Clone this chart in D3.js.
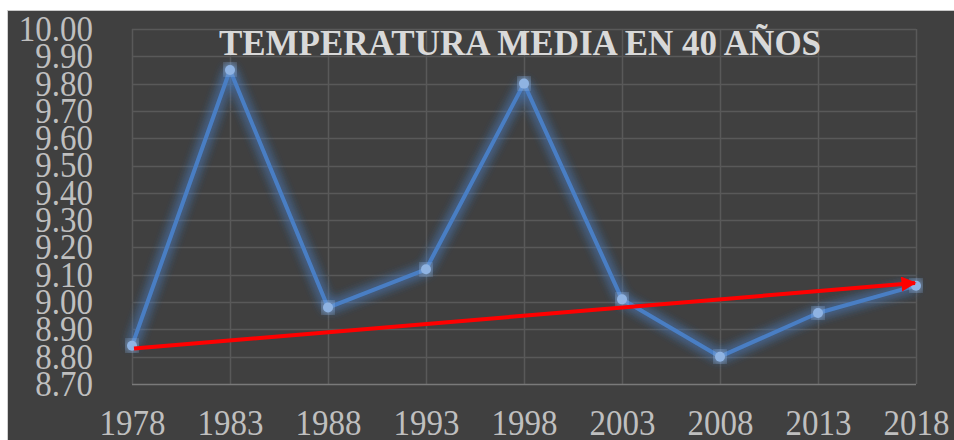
<!DOCTYPE html>
<html>
<head>
<meta charset="utf-8">
<script src="https://cdn.jsdelivr.net/npm/d3@7"></script>
<style>
  body { margin: 0; background: #ffffff; }
  svg { display: block; }
</style>
</head>
<body>
<div id="chart"></div>
<script>
// chart data
const years = ["1978", "1983", "1988", "1993", "1998", "2003", "2008", "2013", "2018"];
const temps = [8.84, 9.85, 8.98, 9.12, 9.80, 9.01, 8.80, 8.96, 9.06];
const yTicks = [8.70, 8.80, 8.90, 9.00, 9.10, 9.20, 9.30, 9.40, 9.50, 9.60, 9.70, 9.80, 9.90, 10.00];
const trendYears = ["1978", "2018"];
const trendValues = [8.83, 9.07];
const title = "TEMPERATURA MEDIA EN 40 AÑOS";

function drawChart() {
  const W = 954, H = 440;
  const plot = { left: 132, right: 916, top: 29, bottom: 384 };
  const labelFont = "'Liberation Serif', 'DejaVu Serif', serif";

  const svg = d3.select("#chart").append("svg")
    .attr("width", W)
    .attr("height", H);

  // soft blue glow for the series line
  const defs = svg.append("defs");
  const glow = defs.append("filter")
    .attr("id", "glow")
    .attr("x", "-20%").attr("y", "-20%")
    .attr("width", "140%").attr("height", "140%");
  glow.append("feGaussianBlur")
    .attr("in", "SourceGraphic")
    .attr("stdDeviation", 6)
    .attr("result", "blur");
  const merge = glow.append("feMerge");
  merge.append("feMergeNode").attr("in", "blur");
  merge.append("feMergeNode").attr("in", "blur");
  merge.append("feMergeNode").attr("in", "SourceGraphic");

  defs.append("marker")
    .attr("id", "arrow")
    .attr("viewBox", "0 0 10 10")
    .attr("refX", 9).attr("refY", 5)
    .attr("markerUnits", "userSpaceOnUse")
    .attr("markerWidth", 17).attr("markerHeight", 15)
    .attr("orient", "auto")
    .append("path")
      .attr("d", "M0,0 L10,5 L0,10 Z")
      .attr("fill", "#ff0000");

  // chart background
  svg.append("rect")
    .attr("x", 8).attr("y", 11)
    .attr("width", W - 8).attr("height", H - 11)
    .attr("fill", "#404040");
  svg.append("line")
    .attr("x1", 8).attr("x2", W).attr("y1", 10.5).attr("y2", 10.5)
    .attr("stroke", "#c8c8c8");
  svg.append("line")
    .attr("x1", 7.5).attr("x2", 7.5).attr("y1", 10).attr("y2", H)
    .attr("stroke", "#d0d0d0");

  const x = d3.scalePoint()
    .domain(years)
    .range([plot.left, plot.right]);

  const y = d3.scaleLinear()
    .domain([8.7, 10])
    .range([plot.bottom, plot.top]);

  // horizontal gridlines
  svg.append("g")
    .selectAll("line")
    .data(yTicks.slice(1))
    .join("line")
      .attr("x1", plot.left).attr("x2", plot.right)
      .attr("y1", d => Math.round(y(d)) + 0.5)
      .attr("y2", d => Math.round(y(d)) + 0.5)
      .attr("stroke", "#595959")
      .attr("stroke-width", 1.5);

  // vertical gridlines
  svg.append("g")
    .selectAll("line")
    .data(years)
    .join("line")
      .attr("x1", d => Math.round(x(d)) + 0.5)
      .attr("x2", d => Math.round(x(d)) + 0.5)
      .attr("y1", plot.top).attr("y2", plot.bottom)
      .attr("stroke", "#595959")
      .attr("stroke-width", 1.5);

  // x axis line
  svg.append("line")
    .attr("x1", plot.left).attr("x2", plot.right)
    .attr("y1", plot.bottom + 0.5).attr("y2", plot.bottom + 0.5)
    .attr("stroke", "#7a7a7a")
    .attr("stroke-width", 1.5);

  // y axis labels
  const yAxis = d3.axisLeft(y)
    .tickValues(yTicks)
    .tickFormat(d3.format(".2f"))
    .tickSize(0)
    .tickPadding(0);
  const gy = svg.append("g")
    .attr("transform", "translate(93,0)")
    .call(yAxis);
  gy.select(".domain").remove();
  gy.selectAll("text")
    .attr("fill", "#bfbfbf")
    .attr("font-family", labelFont)
    .attr("font-size", 33)
    .attr("dy", "0.32em")
    .attr("transform", "scale(1,1.08)");

  // x axis labels
  const xAxis = d3.axisBottom(x).tickSize(0).tickPadding(0);
  const gx = svg.append("g")
    .attr("transform", "translate(0,435)")
    .call(xAxis);
  gx.select(".domain").remove();
  gx.selectAll("text")
    .attr("fill", "#bfbfbf")
    .attr("font-family", labelFont)
    .attr("font-size", 33)
    .attr("dy", 0)
    .attr("y", 0)
    .attr("transform", "scale(1,1.08)");

  // series line with glow
  const line = d3.line()
    .x((d, i) => x(years[i]))
    .y(d => y(d));

  svg.append("path")
    .datum(temps)
    .attr("d", line)
    .attr("fill", "none")
    .attr("stroke", "#4a7ec4")
    .attr("stroke-width", 4)
    .attr("stroke-linejoin", "round")
    .attr("filter", "url(#glow)");

  svg.append("g")
    .selectAll("circle")
    .data(temps)
    .join("circle")
      .attr("cx", (d, i) => x(years[i]))
      .attr("cy", d => y(d))
      .attr("r", 5)
      .attr("fill", "#8fb3e2")
      .attr("filter", "url(#glow)");

  // red trend arrow
  svg.append("line")
    .attr("x1", x(trendYears[0]) + 2)
    .attr("y1", y(trendValues[0]))
    .attr("x2", x(trendYears[1]) - 1)
    .attr("y2", y(trendValues[1]))
    .attr("stroke", "#ff0000")
    .attr("stroke-width", 4)
    .attr("marker-end", "url(#arrow)");

  // title
  svg.append("text")
    .attr("x", 520)
    .attr("y", 55)
    .attr("text-anchor", "middle")
    .attr("fill", "#d9d9d9")
    .attr("font-family", labelFont)
    .attr("font-weight", "bold")
    .attr("font-size", 35)
    .text(title);
}

drawChart();
</script>
</body>
</html>
